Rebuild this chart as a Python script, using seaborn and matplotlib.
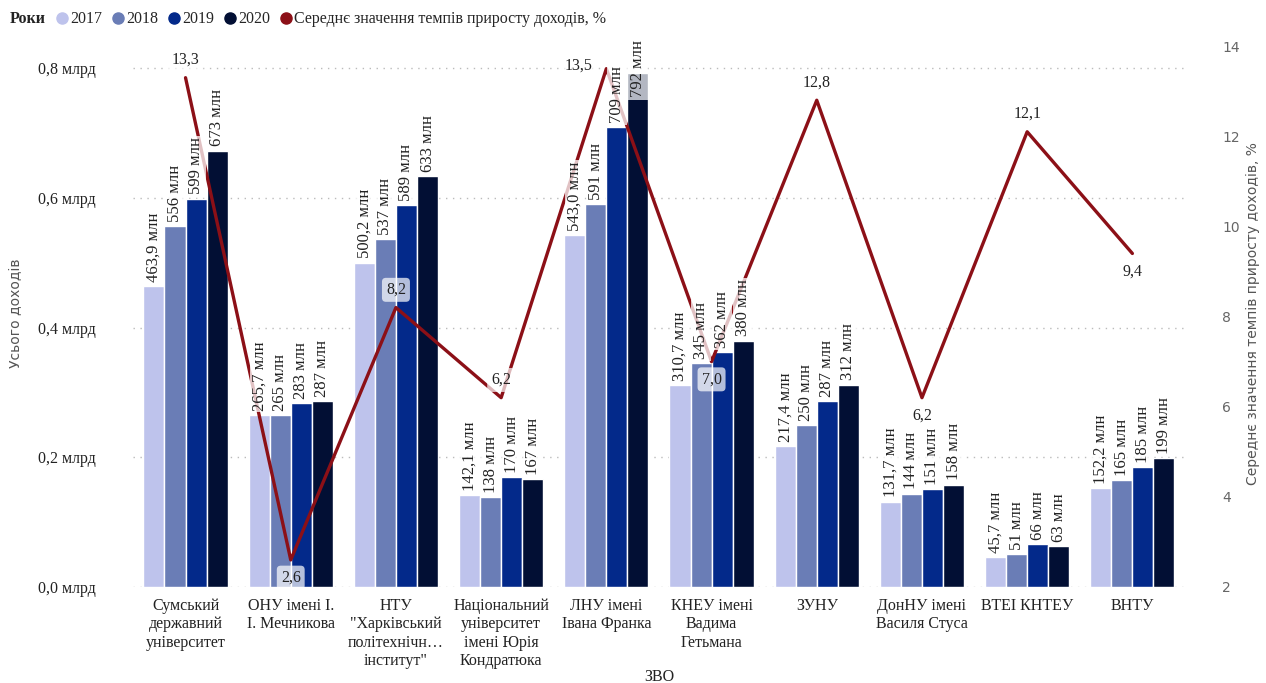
import numpy as np
import pandas as pd
import matplotlib
matplotlib.use("Agg")
import matplotlib.pyplot as plt
from matplotlib.lines import Line2D
from matplotlib.ticker import FuncFormatter
import seaborn as sns

# data
universities = [
    "Сумський\nдержавний\nуніверситет",
    "ОНУ імені І.\nІ. Мечникова",
    "НТУ\n\"Харківський\nполітехнічн…\nінститут\"",
    "Національний\nуніверситет\nімені Юрія\nКондратюка",
    "ЛНУ імені\nІвана Франка",
    "КНЕУ імені\nВадима\nГетьмана",
    "ЗУНУ",
    "ДонНУ імені\nВасиля Стуса",
    "ВТЕІ КНТЕУ",
    "ВНТУ",
]
years = ["2017", "2018", "2019", "2020"]
income_2017 = [463.9, 265.7, 500.2, 142.1, 543.0, 310.7, 217.4, 131.7, 45.7, 152.2]
income_2018 = [556, 265, 537, 138, 591, 345, 250, 144, 51, 165]
income_2019 = [599, 283, 589, 170, 709, 362, 287, 151, 66, 185]
income_2020 = [673, 287, 633, 167, 792, 380, 312, 158, 63, 199]
growth_rate = [13.3, 2.6, 8.2, 6.2, 13.5, 7.0, 12.8, 6.2, 12.1, 9.4]
growth_label_side = ["above", "below", "above", "above", "left",
                     "below", "above", "below", "above", "below"]

year_colors = ["#BEC3EC", "#6A7DB6", "#03298A", "#020F34"]
line_color = "#8C1017"
serif = ["Liberation Serif", "DejaVu Serif"]

sns.set_style("white")
plt.rcParams["font.family"] = serif

rows = []
for yr, vals in zip(years, [income_2017, income_2018, income_2019, income_2020]):
    for u, v in zip(universities, vals):
        rows.append({"ЗВО": u, "Рік": yr, "Дохід": v / 1000.0})
df = pd.DataFrame(rows)

fig = plt.figure(figsize=(12.66, 6.83), dpi=100)
ax = fig.add_axes([0.105, 0.1406, 0.831, 0.8004])

sns.barplot(data=df, x="ЗВО", y="Дохід", hue="Рік", order=universities,
            hue_order=years, palette=year_colors, width=0.8, saturation=1,
            ax=ax, legend=False)

ax.set_ylim(0, 0.843)
ax.set_yticks([0, 0.2, 0.4, 0.6, 0.8])
ax.yaxis.set_major_formatter(FuncFormatter(lambda v, p: f"{v:.1f}".replace(".", ",") + " млрд"))
ax.tick_params(axis="y", length=0, labelsize=11.5, pad=27, colors="#222222")
ax.tick_params(axis="x", length=0, labelsize=11.5, pad=8, colors="#222222")
for lbl in ax.get_xticklabels():
    lbl.set_linespacing(1.2)
ax.grid(axis="y", linestyle=(0, (1, 4)), color="#BBBBBB", linewidth=1)
ax.set_axisbelow(True)
for s in ax.spines.values():
    s.set_visible(False)
ax.set_xlabel("ЗВО", fontsize=11.5, color="#222222", labelpad=0)
ax.set_ylabel("Усього доходів", fontsize=10, color="#555555",
              family=["DejaVu Sans"], labelpad=2)
ax.yaxis.set_label_coords(-0.104, 0.5)

# bar labels
top = ax.get_ylim()[1]
for cont, yr in zip(ax.containers, years):
    for bar in cont:
        h = bar.get_height()
        txt = (f"{h * 1000:.1f}".replace(".", ",") if yr == "2017" else f"{h * 1000:.0f}") + " млн"
        x = bar.get_x() + bar.get_width() / 2
        if h > 0.75:
            ax.text(x, top, txt, rotation=90, ha="center", va="top", fontsize=12,
                    color="#222222", zorder=6,
                    bbox=dict(boxstyle="square,pad=0.15", fc="white", ec="none", alpha=0.7))
        else:
            ax.annotate(txt, (x, h), xytext=(0, 3), textcoords="offset points",
                        rotation=90, ha="center", va="bottom", fontsize=12,
                        color="#222222", zorder=6,
                        bbox=dict(boxstyle="square,pad=0.1", fc="white", ec="none", alpha=0.75))

# line on secondary axis
ax2 = ax.twinx()
sns.lineplot(x=np.arange(len(universities)), y=growth_rate, color=line_color,
             linewidth=2.4, ax=ax2, zorder=5)
ax2.set_ylim(2, 14.13)
ax2.set_yticks([2, 4, 6, 8, 10, 12, 14])
ax2.tick_params(axis="y", length=0, labelsize=10, pad=27, colors="#666666")
for lbl in ax2.get_yticklabels():
    lbl.set_family(["DejaVu Sans"])
for s in ax2.spines.values():
    s.set_visible(False)
ax2.set_ylabel("Середнє значення темпів приросту доходів, %", fontsize=10,
               color="#555555", family=["DejaVu Sans"])
ax2.yaxis.set_label_coords(1.058, 0.5)
ax2.grid(False)
ax.set_zorder(ax2.get_zorder() + 1)
ax.patch.set_visible(False)

for i, (v, side) in enumerate(zip(growth_rate, growth_label_side)):
    if side == "above":
        off, ha, va = (0, 7), "center", "bottom"
    elif side == "below":
        off, ha, va = (0, -7), "center", "top"
    else:
        off, ha, va = (-10, 2), "right", "center"
    ax.annotate(f"{v:.1f}".replace(".", ","),
                (i, (v - 2) / (14.13 - 2) * top), xytext=off,
                textcoords="offset points", ha=ha, va=va, fontsize=11.5,
                color="#222222", zorder=8,
                bbox=dict(boxstyle="round,pad=0.25", fc="white", ec="none", alpha=0.7))

# draw the line again on the top axis so labels can overlap it
ax.plot(np.arange(len(universities)), [(v - 2) / (14.13 - 2) * top for v in growth_rate],
        color=line_color, linewidth=2.4, zorder=5)
ax2.lines[0].set_visible(False)
ax.set_xlim(-0.5, len(universities) - 0.5)

# legend
fig.text(0.008, 0.972, "Роки", fontsize=11.5, fontweight="bold", va="center", color="#222222")
handles = [Line2D([], [], marker="o", linestyle="", color=c, markersize=8) for c in year_colors]
handles.append(Line2D([], [], marker="o", linestyle="", color=line_color, markersize=8))
labels = years + ["Середнє значення темпів приросту доходів, %"]
fig.legend(handles, labels, loc="center left", bbox_to_anchor=(0.043, 0.972), ncol=5,
           frameon=False, handletextpad=0.0, columnspacing=0.5, fontsize=11.5,
           borderaxespad=0, borderpad=0, handlelength=1.0)

fig.savefig("out.png", dpi=100)
